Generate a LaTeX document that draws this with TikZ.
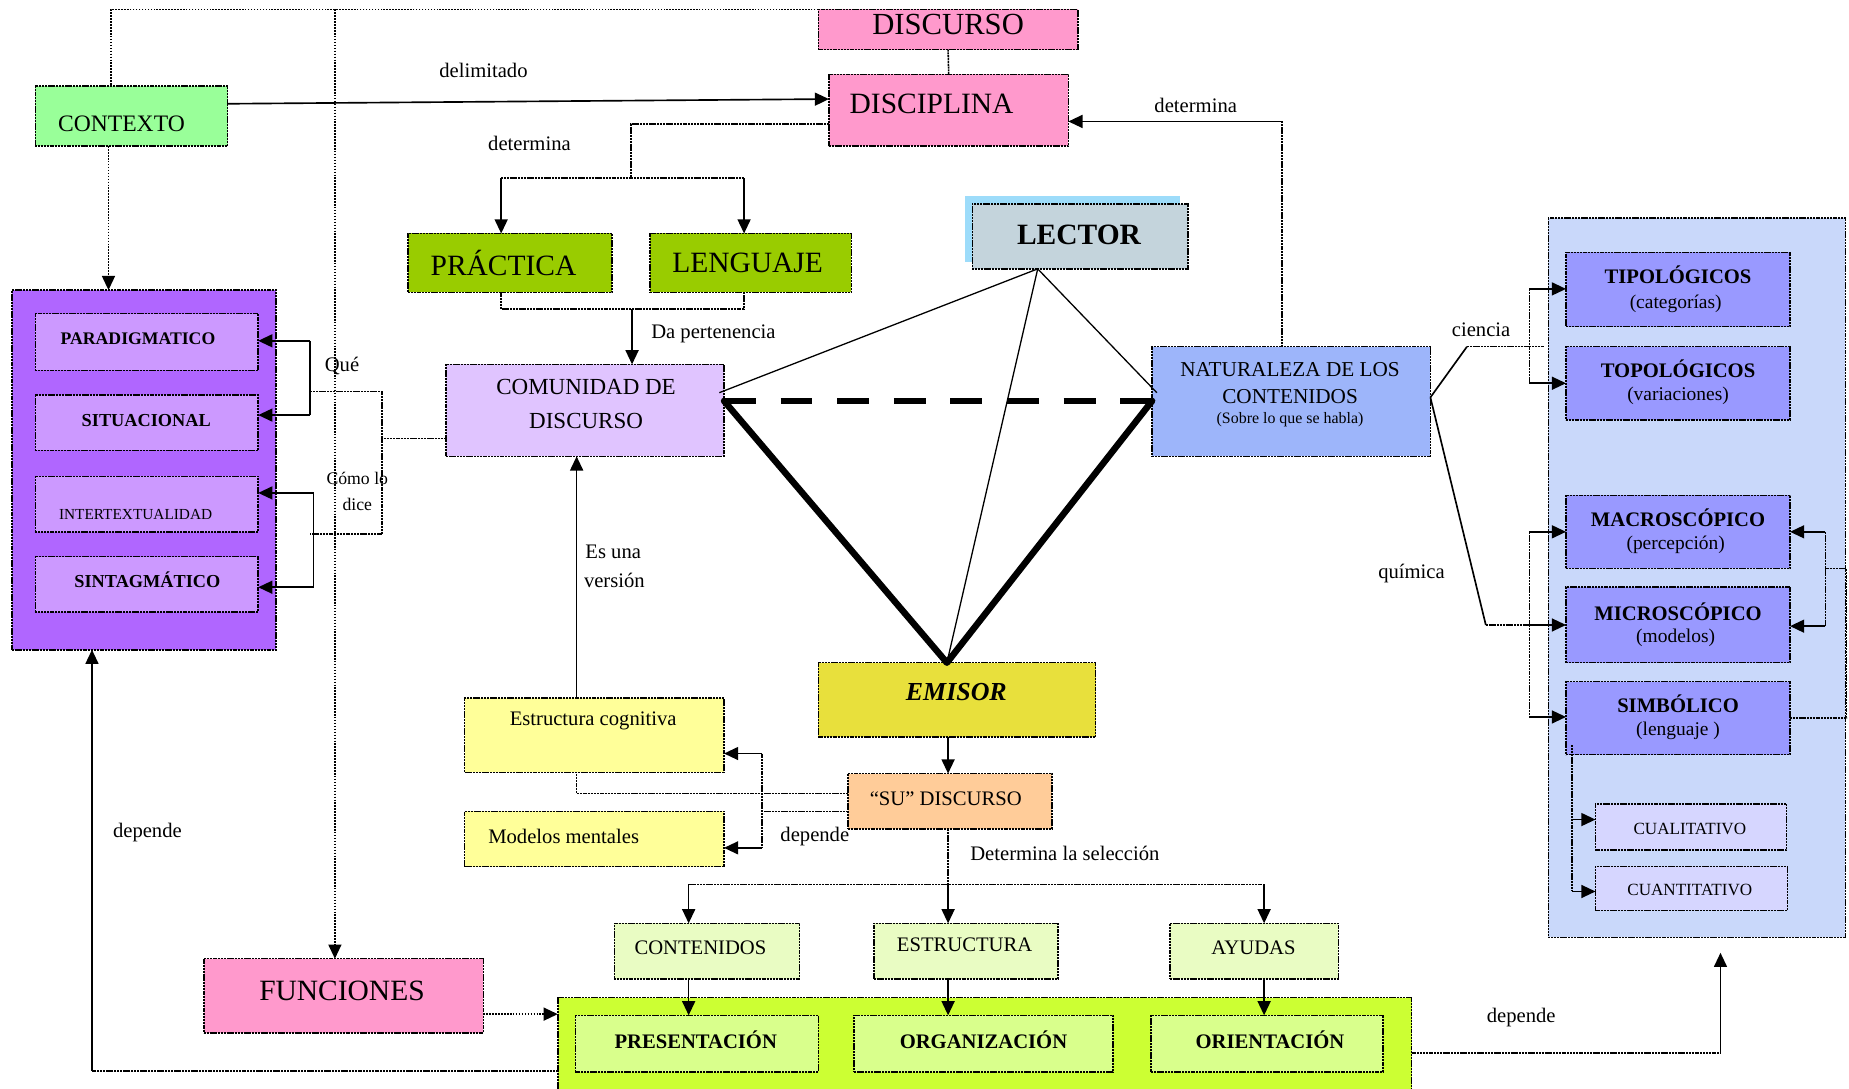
\documentclass[tikz,border=0pt]{standalone}
\usepackage{fontspec}
\setmainfont{Liberation Serif}
\usetikzlibrary{arrows.meta}
\newcommand\myfs[1]{\fontsize{#1}{#1}\selectfont}
\definecolor{cpink}{HTML}{FF99CC}
\definecolor{cctx}{HTML}{99FF99}
\definecolor{colive}{HTML}{99CC00}
\definecolor{clector}{HTML}{C4D4DC}
\definecolor{cshadow}{HTML}{9DDCFA}
\definecolor{ccom}{HTML}{E0C4FF}
\definecolor{cnat}{HTML}{9DB5FA}
\definecolor{crbig}{HTML}{C9D8FA}
\definecolor{crin}{HTML}{9999FF}
\definecolor{ccual}{HTML}{D6D6FF}
\definecolor{cemi}{HTML}{E8E03C}
\definecolor{csu}{HTML}{FFCC99}
\definecolor{cyel}{HTML}{FFFF99}
\definecolor{cpur}{HTML}{B066FF}
\definecolor{cpurin}{HTML}{CC99FF}
\definecolor{cgbig}{HTML}{CCFF33}
\definecolor{cgin}{HTML}{D9FF8C}
\definecolor{cgsm}{HTML}{E9FCC3}
\begin{document}
\begin{tikzpicture}[x=1pt,y=-1pt,
  bx/.style={draw=black, line width=1.3pt, dash pattern=on 1.8pt off 0.6pt, inner sep=0pt, outer sep=0pt},
  dl/.style={line width=1.3pt, dash pattern=on 1.8pt off 0.6pt},
  dt/.style={line width=1.4pt, dash pattern=on 1.3pt off 1.2pt},
  sl/.style={line width=1.4pt},
  arr/.style={-{Triangle[length=12pt,width=11pt]}},
  lbl/.style={font=\myfs{17.5}, inner sep=0pt},
  tri/.style={line width=5.5pt, line cap=round, line join=round},
  thin/.style={line width=1.1pt}]
\useasboundingbox (0,0) rectangle (1568,923);

% ---------- big containers ----------
\node[bx, fill=cpur, minimum width=224pt, minimum height=305pt] (purple) at (122,398.5) {};
\node[bx, fill=crbig, minimum width=252pt, minimum height=610pt] (rightbig) at (1439,490) {};
\node[bx, fill=cgbig, minimum width=724pt, minimum height=84pt] (greenbig) at (835,888) {};

% ---------- top ----------
\node[bx, fill=cpink, minimum width=220pt, minimum height=34pt] (discurso) at (804,25) {};
\node[font=\myfs{26}] (tdiscurso) at (804,21) {DISCURSO};
\node[bx, fill=cpink, minimum width=203pt, minimum height=61pt] (disciplina) at (804.5,93.5) {};
\node[font=\myfs{25}] (tdisciplina) at (790,88) {DISCIPLINA};
\node[bx, fill=cctx, minimum width=163pt, minimum height=51pt] (contexto) at (111.5,98.5) {};
\node[font=\myfs{20}] (tcontexto) at (103,105) {CONTEXTO};
\node[bx, fill=colive, minimum width=173pt, minimum height=50pt] (practica) at (432.5,223) {};
\node[font=\myfs{25}] (tpractica) at (427,223) {PRÁCTICA};
\node[bx, fill=colive, minimum width=171pt, minimum height=50pt] (lenguaje) at (636.5,223) {};
\node[font=\myfs{25}] (tlenguaje) at (634,223) {LENGUAJE};

% LECTOR
\fill[cshadow] (818,166) rectangle (1001,222);
\node[bx, fill=clector, minimum width=183pt, minimum height=55pt] (lector) at (916,200.5) {};
\node[font=\myfs{25}\bfseries] (tlector) at (915,199) {LECTOR};

% COMUNIDAD
\node[bx, fill=ccom, minimum width=236pt, minimum height=78pt] (comunidad) at (496,348) {};
\node[font=\myfs{19.5}] (tcom1) at (497,328) {COMUNIDAD DE};
\node[font=\myfs{19.5}] (tcom2) at (497,357) {DISCURSO};

% NATURALEZA
\node[bx, fill=cnat, minimum width=236pt, minimum height=93pt] (naturaleza) at (1095,340.5) {};
\node[font=\myfs{18}] (tnat1) at (1094,313) {NATURALEZA DE LOS};
\node[font=\myfs{18}] (tnat2) at (1094,336) {CONTENIDOS};
\node[font=\myfs{13.5}] (tnat3) at (1094,356) {(Sobre lo que se habla)};

% EMISOR and SU DISCURSO
\node[bx, fill=cemi, minimum width=235pt, minimum height=63pt] (emisor) at (811.5,593.5) {};
\node[font=\myfs{22}\bfseries\itshape] (temisor) at (811,587) {EMISOR};
\node[bx, fill=csu, minimum width=173pt, minimum height=47pt] (su) at (805.5,679.5) {};
\node[font=\myfs{17.5}] (tsu) at (802,677) {“SU” DISCURSO};

% yellow boxes
\node[bx, fill=cyel, minimum width=220pt, minimum height=63pt] (estructura) at (504,623.5) {};
\node[font=\myfs{17.5}] (testructura) at (503,611) {Estructura cognitiva};
\node[bx, fill=cyel, minimum width=220pt, minimum height=47pt] (modelos) at (504,711.5) {};
\node[font=\myfs{17.5}] (tmodelos) at (478,709) {Modelos mentales};

% FUNCIONES
\node[bx, fill=cpink, minimum width=237pt, minimum height=63pt] (funciones) at (291.5,844.5) {};
\node[font=\myfs{25}] (tfunciones) at (290,840) {FUNCIONES};

% small green boxes
\node[bx, fill=cgsm, minimum width=157pt, minimum height=47pt] (contenidos) at (599.5,806.5) {};
\node[font=\myfs{17.5}] (tcontenidos) at (594,804) {CONTENIDOS};
\node[bx, fill=cgsm, minimum width=156pt, minimum height=47pt] (estru2) at (819,806.5) {};
\node[font=\myfs{17.5}] (testru2) at (818,801) {ESTRUCTURA};
\node[bx, fill=cgsm, minimum width=143pt, minimum height=47pt] (ayudas) at (1063.5,806.5) {};
\node[font=\myfs{17.5}] (tayudas) at (1063,804) {AYUDAS};

% inner green boxes
\node[bx, fill=cgin, minimum width=206pt, minimum height=48pt] (present) at (591,885) {};
\node[font=\myfs{17.5}\bfseries] (tpresent) at (590,882) {PRESENTACIÓN};
\node[bx, fill=cgin, minimum width=220pt, minimum height=48pt] (organiz) at (834,885) {};
\node[font=\myfs{17.5}\bfseries] (torganiz) at (834,882) {ORGANIZACIÓN};
\node[bx, fill=cgin, minimum width=197pt, minimum height=48pt] (orient) at (1074.5,885) {};
\node[font=\myfs{17.5}\bfseries] (torient) at (1077,882) {ORIENTACIÓN};

% purple inner boxes
\node[bx, fill=cpurin, minimum width=189pt, minimum height=48pt] (para) at (124.5,290) {};
\node[font=\myfs{15}\bfseries] (tpara) at (117,287) {PARADIGMATICO};
\node[bx, fill=cpurin, minimum width=189pt, minimum height=47pt] (situ) at (124.5,358.5) {};
\node[font=\myfs{15.5}\bfseries] (tsitu) at (124,357) {SITUACIONAL};
\node[bx, fill=cpurin, minimum width=189pt, minimum height=47pt] (inter) at (124.5,427.5) {};
\node[font=\myfs{13}] (tinter) at (115,436) {INTERTEXTUALIDAD};
\node[bx, fill=cpurin, minimum width=189pt, minimum height=47pt] (sint) at (124.5,495.5) {};
\node[font=\myfs{15.5}\bfseries] (tsint) at (125,492) {SINTAGMÁTICO};

% right inner boxes
\node[bx, fill=crin, minimum width=190pt, minimum height=63pt] (tipo) at (1423,245.5) {};
\node[font=\myfs{17.5}\bfseries] (ttipo1) at (1423,233) {TIPOLÓGICOS};
\node[font=\myfs{16.5}] (ttipo2) at (1421,258) {(categorías)};
\node[bx, fill=crin, minimum width=190pt, minimum height=62pt] (topo) at (1423,325) {};
\node[font=\myfs{17.5}\bfseries] (ttopo1) at (1423,313) {TOPOLÓGICOS};
\node[font=\myfs{16.5}] (ttopo2) at (1423,336) {(variaciones)};
\node[bx, fill=crin, minimum width=190pt, minimum height=62pt] (macro) at (1423,451) {};
\node[font=\myfs{17.5}\bfseries] (tmacro1) at (1423,439) {MACROSCÓPICO};
\node[font=\myfs{16.5}] (tmacro2) at (1421,462) {(percepción)};
\node[bx, fill=crin, minimum width=190pt, minimum height=64pt] (micro) at (1423,530) {};
\node[font=\myfs{17.5}\bfseries] (tmicro1) at (1423,519) {MICROSCÓPICO};
\node[font=\myfs{16.5}] (tmicro2) at (1421,541) {(modelos)};
\node[bx, fill=crin, minimum width=190pt, minimum height=62pt] (simb) at (1423,609) {};
\node[font=\myfs{17.5}\bfseries] (tsimb1) at (1423,597) {SIMBÓLICO};
\node[font=\myfs{16.5}] (tsimb2) at (1423,620) {(lenguaje )};
\node[bx, fill=ccual, minimum width=162pt, minimum height=39pt] (cuali) at (1434,701.5) {};
\node[font=\myfs{14.5}] (tcuali) at (1433,703) {CUALITATIVO};
\node[bx, fill=ccual, minimum width=163pt, minimum height=37pt] (cuanti) at (1434.5,753.5) {};
\node[font=\myfs{14.5}] (tcuanti) at (1433,755) {CUANTITATIVO};

% ---------- connectors ----------
% top dotted frame
\draw[dt] (discurso.west |- 0,8) -- (94,8) -- (contexto.north -| 94,0);
\draw[dt,arr] (284,8) -- (funciones.north -| 284,0);
\draw[dt,arr] (contexto.south -| 92,0) -- (purple.north -| 92,0);
\draw[dl] (discurso.south) -- (disciplina.north);
% contexto -> disciplina
\draw[sl,arr] (contexto.east |- 0,88) -- (disciplina.west |- 0,84);
\node[lbl] (ldelim) at (410,60) {delimitado};
% disciplina -> practica / lenguaje
\draw[dl] (disciplina.west |- 0,105) -- (535,105) -- (535,151);
\draw[dl] (425,151) -- (631,151);
\draw[sl,arr] (425,151) -- (practica.north -| 425,0);
\draw[sl,arr] (631,151) -- (lenguaje.north -| 631,0);
\node[lbl] (ldet1) at (449,122) {determina};
% practica / lenguaje -> comunidad
\draw[dl] (practica.south -| 425,0) -- (425,262) -- (631,262) -- (lenguaje.south -| 631,0);
\draw[sl,arr] (536,262) -- (comunidad.north -| 536,0);
\node[lbl] (lda) at (605,283) {Da pertenencia};
% comunidad -> purple inner boxes
\draw[dl] (comunidad.west |- 0,372) -- (324,372);
\draw[dl] (263,332) -- (324,332) -- (324,453) -- (263,453);
\draw[sl] (263,289) -- (263,352);
\draw[sl,arr] (263,289) -- (para.east |- 0,289);
\draw[sl,arr] (263,352) -- (situ.east |- 0,352);
\draw[sl] (266,418) -- (266,498);
\draw[sl,arr] (266,418) -- (inter.east |- 0,418);
\draw[sl,arr] (266,498) -- (sint.east |- 0,498);
\node[lbl] (lque) at (290,310) {Qué};
\node[font=\myfs{15}, inner sep=0pt] (lcomo1) at (303,406) {Cómo lo};
\node[font=\myfs{15}, inner sep=0pt] (lcomo2) at (303,428) {dice};
% naturaleza -> disciplina
\draw[dl] (naturaleza.north -| 1087,0) -- (1087,103);
\draw[sl,arr] (1087,103) -- (disciplina.east |- 0,103);
\node[lbl] (ldet2) at (1014,89) {determina};
% triangle
\draw[tri] (comunidad.east |- 0,340) -- (emisor.north -| 803,0) -- (naturaleza.west |- 0,340);
\draw[line width=5.5pt, dash pattern=on 27pt off 21pt] (comunidad.east |- 0,340) -- (naturaleza.west |- 0,340);
\draw[thin] (lector.south -| 880,0) -- (610,333);
\draw[thin] (lector.south -| 880,0) -- (981,333);
\draw[thin] (lector.south -| 880,0) -- (emisor.north -| 803,0);
% ciencia
\draw[sl] (naturaleza.east |- 0,337) -- (1244,294);
\draw[dl] (1244,294) -- (1309,294);
\draw[dl] (1297,245) -- (1297,325);
\draw[sl,arr] (1297,245) -- (tipo.west |- 0,245);
\draw[sl,arr] (1297,325) -- (topo.west |- 0,325);
\node[lbl] (lciencia) at (1256,280) {ciencia};
% quimica
\draw[sl] (naturaleza.east |- 0,337) -- (1260,530);
\draw[dl] (1260,530) -- (1297,530);
\draw[dl] (1297,451) -- (1297,608);
\draw[sl,arr] (1297,451) -- (macro.west |- 0,451);
\draw[sl,arr] (1297,530) -- (micro.west |- 0,530);
\draw[sl,arr] (1297,608) -- (simb.west |- 0,608);
\node[lbl] (lquimica) at (1197,486) {química};
% right bracket
\draw[dl] (1548,451) -- (1548,531);
\draw[sl,arr] (1548,451) -- (macro.east |- 0,451);
\draw[sl,arr] (1548,531) -- (micro.east |- 0,531);
\draw[dl] (simb.east |- 0,609) -- (1566,609) -- (1566,482) -- (1548,482);
% simbolico -> cuali / cuanti
\draw[dl] (1333,632) -- (1333,756);
\draw[sl,arr] (1333,695) -- (cuali.west |- 0,695);
\draw[sl,arr] (1333,756) -- (cuanti.west |- 0,756);
% bottom right depende
\coordinate (rbtip) at (1459,808);
\draw[dl] (greenbig.east |- 0,893) -- (1459,893);
\draw[sl,arr] (1459,893) -- (rbtip);
\node[lbl] (ldep3) at (1290,863) {depende};
% bottom left depende
\draw[dl] (greenbig.west |- 0,908) -- (78,908);
\draw[sl,arr] (78,908) -- (purple.south -| 78,0);
\node[lbl] (ldep1) at (125,706) {depende};
% funciones -> green
\draw[dt,arr] (funciones.east |- 0,860) -- (greenbig.west |- 0,860);
% emisor -> su
\draw[sl,arr] (emisor.south -| 804,0) -- (su.north -| 804,0);
% su -> selection
\draw[dl] (su.south -| 804,0) -- (804,750);
\draw[dl] (584,750) -- (1072,750);
\draw[sl,arr] (584,750) -- (contenidos.north -| 584,0);
\draw[sl,arr] (804,750) -- (estru2.north -| 804,0);
\draw[sl,arr] (1072,750) -- (ayudas.north -| 1072,0);
\node[lbl] (lsel) at (903,724) {Determina la selección};
\draw[sl,arr] (contenidos.south -| 584,0) -- (present.north -| 584,0);
\draw[sl,arr] (estru2.south -| 804,0) -- (organiz.north -| 804,0);
\draw[sl,arr] (ayudas.south -| 1072,0) -- (orient.north -| 1072,0);
% su -> estructura / modelos
\draw[dl] (su.west |- 0,673) -- (489,673) -- (estructura.south -| 489,0);
\draw[dl] (su.west |- 0,688) -- (646,688);
\draw[dl] (646,639) -- (646,719);
\draw[sl,arr] (646,639) -- (estructura.east |- 0,639);
\draw[sl,arr] (646,719) -- (modelos.east |- 0,719);
\node[lbl] (ldep2) at (691,709) {depende};
% estructura -> comunidad
\draw[sl,arr] (estructura.north -| 489,0) -- (comunidad.south -| 489,0);
\node[lbl] (les1) at (520,468) {Es una};
\node[lbl] (les2) at (521,492) {versión};
\end{tikzpicture}
\end{document}
